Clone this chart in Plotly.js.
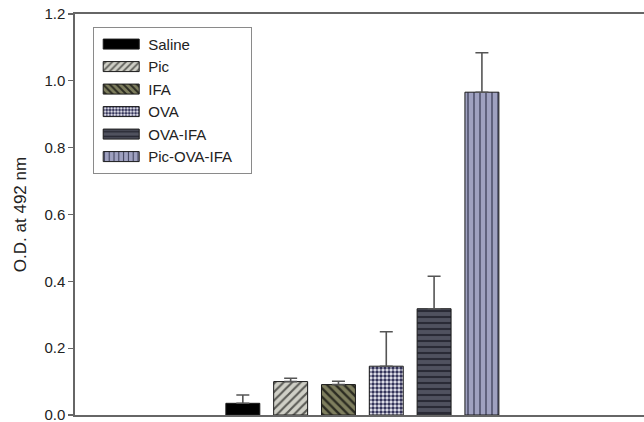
<!DOCTYPE html>
<html>
<head>
<meta charset="utf-8">
<script src="https://cdn.plot.ly/plotly-3.0.1.min.js"></script>
<style>html,body{margin:0;padding:0;background:#fff;}</style>
</head>
<body>
<div id="chart" style="width:644px;height:422px;"></div>
<script>
// Data
const groups = ["Saline", "Pic", "IFA", "OVA", "OVA-IFA", "Pic-OVA-IFA"];
const odValues = [0.035, 0.100, 0.091, 0.146, 0.318, 0.966];
const odErrors = [0.025, 0.010, 0.010, 0.103, 0.097, 0.118];

// Styles
const fills = [
  {bg: "#000000", fg: "#000000", shape: "", size: 6, solidity: 0.3},
  {bg: "#cfcfc6", fg: "#5a5a55", shape: "/", size: 6, solidity: 0.35},
  {bg: "#7e7e5e", fg: "#2c2c22", shape: "\\", size: 6, solidity: 0.4},
  {bg: "#eeeef6", fg: "#34345a", shape: ".", size: 4, solidity: 0.6},
  {bg: "#50525f", fg: "#2a2b36", shape: "-", size: 6, solidity: 0.35},
  {bg: "#9fa1c0", fg: "#3e405a", shape: "|", size: 6, solidity: 0.22}
];

const traces = groups.map((g, i) => ({
  type: "bar",
  name: g,
  x: [i],
  y: [odValues[i]],
  width: 0.71,
  marker: {
    color: fills[i].bg,
    line: {color: "#1a1a1a", width: 1},
    pattern: {shape: fills[i].shape, fgcolor: fills[i].fg, bgcolor: fills[i].bg,
              size: fills[i].size, solidity: fills[i].solidity, fillmode: "replace"}
  },
  error_y: {type: "data", symmetric: false, array: [odErrors[i]], arrayminus: [0],
            color: "#555555", thickness: 1.6, width: 6.5},
  hoverinfo: "skip"
}));

const layout = {
  width: 644, height: 422,
  margin: {l: 75, r: 0, t: 14, b: 7},
  paper_bgcolor: "#ffffff", plot_bgcolor: "#ffffff",
  font: {family: "Liberation Sans, Arial, sans-serif", color: "#222222", size: 15},
  showlegend: true,
  barmode: "overlay",
  legend: {
    x: 0.032, y: 0.968, xanchor: "left", yanchor: "top",
    bgcolor: "#ffffff", bordercolor: "#8a8a8a", borderwidth: 1,
    font: {size: 15, color: "#222"},
    itemwidth: 44, tracegroupgap: 0,
    traceorder: "normal", itemclick: false
  },
  xaxis: {
    range: [-3.51, 8.39],
    showticklabels: false, ticks: "", showgrid: false, zeroline: false,
    showline: true, mirror: true, linecolor: "#666666", linewidth: 1.6
  },
  yaxis: {
    range: [0, 1.2], dtick: 0.2, tickformat: ".1f",
    ticks: "outside", ticklen: 5, tickcolor: "#666666", tickwidth: 1.2,
    showgrid: false, zeroline: false, ticklabeloverflow: "allow",
    showline: true, linecolor: "#666666", linewidth: 1.6,
    tickfont: {size: 15, color: "#222"},
    title: {text: "O.D. at 492 nm", font: {size: 17, color: "#222"}, standoff: 13}
  }
};

function widenLegend() {
  document.querySelectorAll("#chart .legend .legendpoints path").forEach(p => {
    p.setAttribute("d", "M18,5H-18V-5H18Z");
  });
  document.querySelectorAll("#chart .legend rect.bg").forEach(r => {
    r.setAttribute("width", 158);
  });
}

Plotly.newPlot("chart", traces, layout, {staticPlot: true, displayModeBar: false}).then(gd => {
  widenLegend();
  gd.on && gd.on("plotly_afterplot", widenLegend);
});
</script>
</body>
</html>
